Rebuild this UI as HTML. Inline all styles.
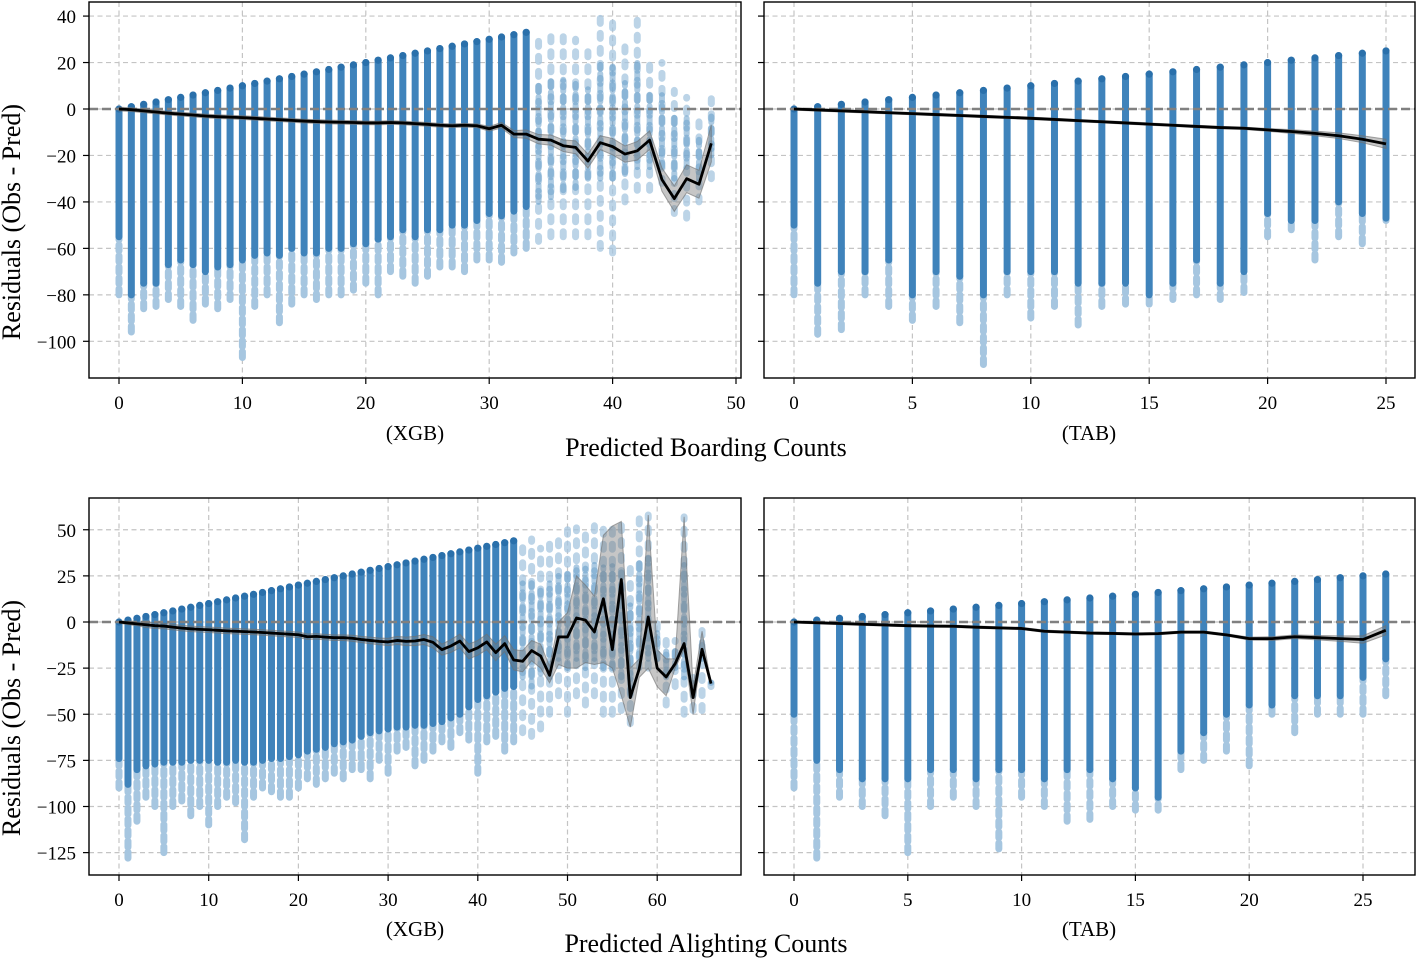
<!DOCTYPE html>
<html><head><meta charset="utf-8">
<style>
html,body{margin:0;padding:0;background:#fff;}
svg{display:block;font-family:"Liberation Serif",serif;}
</style></head>
<body>
<svg id="chart" width="1417" height="958" viewBox="0 0 1417 958" xmlns="http://www.w3.org/2000/svg">
<text x="20" y="222" font-size="26" text-anchor="middle" transform="rotate(-90 20 222)">Residuals (Obs - Pred)</text>
<text x="20" y="718" font-size="26" text-anchor="middle" transform="rotate(-90 20 718)">Residuals (Obs - Pred)</text>
<text x="415" y="440" font-size="21" text-anchor="middle">(XGB)</text>
<text x="1089" y="440" font-size="21" text-anchor="middle">(TAB)</text>
<text x="706" y="456" font-size="26" text-anchor="middle">Predicted Boarding Counts</text>
<text x="415" y="936" font-size="21" text-anchor="middle">(XGB)</text>
<text x="1089" y="936" font-size="21" text-anchor="middle">(TAB)</text>
<text x="706" y="952" font-size="26" text-anchor="middle">Predicted Alighting Counts</text>
</svg>
<script>
// ---------- Top-left: boarding XGB ----------
const tlHi = [0,1,2,3,4,5,6,7,8,9,10,11,12,13,14,15,16,17,18,19,20,21,22,23,24,25,26,27,28,29,30,31,32,33,33,34,33,30,25,40,39,28,39,22,20,8,5,-5,5];
const tlDenseLo = [-55,-80,-75,-75,-67,-65,-67,-70,-68,-67,-65,-63,-62,-63,-60,-62,-62,-60,-60,-58,-58,-56,-55,-52,-55,-52,-52,-50,-50,-48,-45,-46,-44,-42,-40,-38,-35,-34,-30,-30,-30,-28,-25,-25,-25,-30,-25,-30,-20];
const tlSparseLo = [-80,-96,-86,-85,-82,-85,-91,-84,-86,-82,-107,-85,-80,-92,-84,-80,-82,-80,-80,-78,-75,-80,-70,-72,-75,-72,-68,-68,-70,-65,-65,-66,-62,-60,-57,-55,-55,-55,-55,-60,-62,-40,-35,-35,-32,-45,-47,-40,-30];
const tlTrend = [0,-0.3,-0.8,-1.3,-1.8,-2.2,-2.6,-3,-3.3,-3.5,-3.7,-4,-4.3,-4.6,-4.9,-5.2,-5.4,-5.6,-5.7,-5.8,-6,-6,-5.8,-6,-6.3,-6.6,-7,-7.2,-7,-7.2,-8.5,-7,-10.8,-10.8,-13,-13.4,-15.8,-16.5,-22.4,-14.5,-16.2,-19.4,-18,-13.4,-30.4,-38.6,-30,-32.4,-14.8];
const tlCiHalf = [0.8,0.8,0.8,0.8,0.8,0.8,0.8,0.8,0.8,0.8,0.8,0.8,0.8,0.8,0.8,0.8,0.8,0.8,0.8,0.8,0.8,0.8,0.8,0.8,0.8,0.8,0.8,0.8,0.8,0.8,1,1.2,1.5,1.8,2,2.2,2.5,2.8,3,3,3.5,3.5,4,4,5,5.5,6,6,8];
const tlXTicks = [0,10,20,30,40,50];
const topYTicks = [40,20,0,-20,-40,-60,-80,-100];

// ---------- Top-right: boarding TAB ----------
const trHi = [0,1,2,3,4,5,6,7,8,9,10,11,12,13,14,15,16,17,18,19,20,21,22,23,24,25];
const trDenseLo = [-50,-75,-70,-70,-65,-80,-70,-72,-80,-70,-70,-70,-75,-75,-75,-80,-75,-65,-75,-70,-45,-48,-48,-40,-45,-47];
const trSparseLo = [-80,-97,-95,-80,-85,-91,-85,-92,-110,-80,-90,-85,-93,-85,-84,-84,-82,-80,-82,-79,-55,-52,-65,-55,-58,-48];
const trTrend = [0,-0.4,-0.8,-1.2,-1.6,-2,-2.4,-2.8,-3.2,-3.6,-4,-4.5,-5,-5.5,-6,-6.5,-7,-7.5,-8,-8.3,-9,-9.7,-10.5,-11.5,-13,-15];
const trCiHalf = [0.5,0.5,0.5,0.5,0.5,0.5,0.5,0.5,0.5,0.5,0.5,0.5,0.5,0.5,0.5,0.5,0.5,0.5,0.5,0.5,0.6,0.8,1,1.2,1.5,2];
const trXTicks = [0,5,10,15,20,25];

// ---------- Bottom-left: alighting XGB ----------
const blHi = [0,1,2,3,4,5,6,7,8,9,10,11,12,13,14,15,16,17,18,19,20,21,22,23,24,25,26,27,28,29,30,31,32,33,34,35,36,37,38,39,40,41,42,43,44,44,45,40,46,46,50,51,52,53,53,54,54.5,30,57,58,0,-10,-10,57,-30,-3,-33];
const blDenseLo = [-74,-88,-80,-78,-77,-76,-76,-76,-75,-75,-75,-76,-76,-75,-76,-76,-75,-74,-74,-73,-72,-70,-69,-68,-66,-65,-64,-62,-60,-59,-58,-57,-57,-56,-56,-55,-54,-52,-50,-46,-42,-40,-38,-36,-35,-30,-35,-28,-30,-20,-25,-20,-25,-20,-25,-25,-30,-40,-25,-20,-20,-30,-25,-30,-40,-20,-33];
const blSparseLo = [-90,-128,-108,-95,-100,-125,-100,-97,-105,-100,-110,-100,-95,-98,-118,-95,-90,-92,-95,-95,-90,-85,-88,-85,-82,-85,-80,-80,-85,-75,-82,-70,-68,-78,-75,-70,-65,-68,-60,-64,-82,-65,-62,-70,-65,-60,-62,-58,-50,-40,-50,-40,-45,-40,-50,-50,-48,-55,-20,-25,-20,-45,-35,-50,-48,-48,-35];
const blTrend = [0,-0.5,-1,-1.5,-2,-2.2,-2.8,-3.3,-3.7,-4,-4.2,-4.5,-4.8,-5,-5.2,-5.4,-5.7,-6,-6.3,-6.6,-6.9,-8,-7.8,-8.2,-8.5,-8.5,-8.8,-9.5,-10,-10.5,-10.8,-10,-10.5,-10.3,-9.5,-11,-15,-13,-10.3,-16,-14,-10.8,-16.6,-11.7,-20.6,-21.3,-15.5,-18.4,-28.9,-8.1,-8.1,2.2,1,-5.4,12.6,-15,23,-41,-25.3,2.7,-25,-29.8,-22.6,-11.7,-41,-14.8,-33.4];
const blCiLo = [-0.5,-1.5,-2,-3,-3.5,-3.7,-4.3,-4.8,-5.2,-5.5,-5.7,-6,-6.3,-6.5,-6.7,-6.9,-7.2,-7.5,-7.8,-8.1,-8.4,-9.5,-9.3,-9.7,-10,-10,-10.5,-11.2,-11.8,-12.3,-12.8,-12.2,-12.8,-12.8,-12.2,-14,-18,-16.5,-14,-20,-18,-15,-21,-16,-26,-27,-21,-25,-33,-23,-25,-25,-22,-23,-22,-25,-40,-57,-30,-25,-35,-40,-25,-15,-50,-15,-33.4];
const blCiHi = [0.5,0.5,0,0,-0.5,-0.7,-1.3,-1.8,-2.2,-2.5,-2.7,-3,-3.3,-3.5,-3.7,-3.9,-4.2,-4.5,-4.8,-5.1,-5.4,-6.5,-6.3,-6.7,-7,-7,-7.1,-7.8,-8.2,-8.7,-8.8,-7.8,-8.2,-7.8,-6.8,-8,-12,-9.5,-6.6,-12,-10,-6.6,-12,-7.4,-15,-15.6,-10,-12,-24,0,5,25,20,14,47,52,54.5,-25,-20,58,-15,-20,-20,57,-35,-5,-33.4];
const blXTicks = [0,10,20,30,40,50,60];
const botYTicks = [50,25,0,-25,-50,-75,-100,-125];

// ---------- Bottom-right: alighting TAB ----------
const brHi = [0,1,2,3,4,5,6,7,8,9,10,11,12,13,14,15,16,17,18,19,20,21,22,23,24,25,26];
const brDenseLo = [-50,-75,-80,-85,-85,-85,-80,-80,-85,-80,-80,-85,-80,-80,-85,-90,-95,-70,-60,-50,-45,-45,-40,-40,-40,-30,-20];
const brSparseLo = [-90,-128,-95,-100,-105,-125,-100,-95,-100,-123,-95,-100,-108,-107,-100,-102,-102,-80,-75,-70,-78,-50,-60,-50,-50,-50,-40];
const brTrend = [0,-0.4,-0.8,-1.2,-1.6,-2,-2.2,-2.3,-2.8,-3.2,-3.5,-5,-5.5,-6,-6.2,-6.5,-6.3,-5.5,-5.5,-7,-9,-9,-8,-8.5,-9,-9.5,-4.5];
const brCiHalf = [0.5,0.6,0.6,0.6,0.6,0.6,0.6,0.6,0.6,0.6,0.6,0.6,0.6,0.6,0.6,0.6,0.6,0.6,0.6,0.6,0.8,1,1,1.2,1.5,2,2.5];
const brXTicks = [0,5,10,15,20,25];

const NS = "http://www.w3.org/2000/svg";
const svg = document.getElementById('chart');
function mk(tag, attrs, parent){
  const e = document.createElementNS(NS, tag);
  for (const k in attrs) e.setAttribute(k, attrs[k]);
  (parent||svg).appendChild(e);
  return e;
}
const fmt = v => v < 0 ? '\u2212' + Math.abs(v) : String(v);

function panel(cfg){
  const {id, L, R, T, B, x0, kx, y0, ky, xTicks, yTicks, yLabels, hi, denseLo, sparseLo, trend, ciLo, ciHi, darkEnd} = cfg;
  const sx = v => x0 + v * kx;
  const sy = v => y0 - v * ky;
  const g = mk('g', {});
  
  
  const clip = mk('clipPath', {id: id + '-clip'}, g);
  mk('rect', {x: L, y: T, width: R - L, height: B - T}, clip);
  xTicks.forEach(t => {
    const l = mk('line', {x1: sx(t), x2: sx(t), y1: T, y2: B, stroke: '#c4c4c4', 'stroke-width': 1.2, 'stroke-dasharray': '5 3.5'}, g);
    
    
  });
  yTicks.forEach(t => {
    const l = mk('line', {x1: L, x2: R, y1: sy(t), y2: sy(t), stroke: '#c4c4c4', 'stroke-width': 1.2, 'stroke-dasharray': '5 3.5'}, g);
    
    
  });
  const pg = mk('g', {'clip-path': 'url(#' + id + '-clip)'}, g);
  hi.forEach((h, i) => {
    const top = i <= darkEnd ? denseLo[i] : h;
    const c = mk('line', {x1: sx(i), x2: sx(i), y1: sy(sparseLo[i]), y2: sy(top), stroke: '#a6c6e0', 'stroke-width': 7, 'stroke-linecap': 'round', 'stroke-dasharray': i <= darkEnd ? '6 5' : '5 10', opacity: i <= darkEnd ? 1 : 0.75}, pg);
    
    
  });
  hi.forEach((h, i) => {
    if (i > darkEnd) {
      const c = mk('line', {x1: sx(i), x2: sx(i), y1: sy(denseLo[i]), y2: sy(Math.min(h, denseLo[i] + (h - denseLo[i]) * 0.7)), stroke: '#5b97c6', 'stroke-width': 6, 'stroke-linecap': 'round', 'stroke-dasharray': '6 5', opacity: 0.5}, pg);
      
      
      return;
    }
    const c = mk('line', {x1: sx(i), x2: sx(i), y1: sy(denseLo[i]), y2: sy(h), stroke: '#3f83bb', 'stroke-width': 7, 'stroke-linecap': 'round'}, pg);
    
    
    const d = mk('circle', {cx: sx(i), cy: sy(h), r: 3.6, fill: '#2a70ab'}, pg);
    
    
  });
  const z = mk('line', {x1: L, x2: R, y1: sy(0), y2: sy(0), stroke: '#808080', 'stroke-width': 2.6, 'stroke-dasharray': '9 4'}, pg);
  
  
  let dBand = '';
  trend.forEach((v, i) => { dBand += (i ? 'L' : 'M') + sx(i) + ',' + sy(ciHi[i]); });
  for (let i = trend.length - 1; i >= 0; i--) dBand += 'L' + sx(i) + ',' + sy(ciLo[i]);
  const band = mk('path', {d: dBand + 'Z', fill: 'rgba(120,120,120,0.42)', stroke: 'rgba(110,110,110,0.6)', 'stroke-width': 1}, pg);
  
  
  let dT = '';
  trend.forEach((v, i) => { dT += (i ? 'L' : 'M') + sx(i) + ',' + sy(v); });
  const tl = mk('path', {d: dT, fill: 'none', stroke: '#000', 'stroke-width': 2.8, 'stroke-linejoin': 'round'}, pg);
  
  
  const fr = mk('rect', {x: L, y: T, width: R - L, height: B - T, fill: 'none', stroke: '#000', 'stroke-width': 1.4}, g);
  
  
  xTicks.forEach(t => {
    mk('line', {x1: sx(t), x2: sx(t), y1: B, y2: B + 6, stroke: '#000', 'stroke-width': 1.2}, g);
    const tx = mk('text', {x: sx(t), y: B + 31, 'font-size': 19, 'text-anchor': 'middle'}, g);
    tx.textContent = fmt(t);
    
    
  });
  yTicks.forEach(t => {
    mk('line', {x1: L - 6, x2: L, y1: sy(t), y2: sy(t), stroke: '#000', 'stroke-width': 1.2}, g);
    if (yLabels) {
      const ty = mk('text', {x: L - 13, y: sy(t) + 7, 'font-size': 19, 'text-anchor': 'end'}, g);
      ty.textContent = fmt(t);
      
      
    }
  });
}
const sym = (tr, h, s) => tr.map((v, i) => v + s * h[i]);

panel({id:'boarding-xgb', L:89, R:741, T:2, B:378, x0:119, kx:12.34, y0:109, ky:2.323,
  xTicks:tlXTicks, yTicks:topYTicks, yLabels:true, hi:tlHi, denseLo:tlDenseLo, sparseLo:tlSparseLo,
  trend:tlTrend, ciLo:sym(tlTrend, tlCiHalf, -1), ciHi:sym(tlTrend, tlCiHalf, 1), darkEnd:33});
panel({id:'boarding-tab', L:764, R:1415, T:2, B:378, x0:794, kx:23.68, y0:109, ky:2.323,
  xTicks:trXTicks, yTicks:topYTicks, yLabels:false, hi:trHi, denseLo:trDenseLo, sparseLo:trSparseLo,
  trend:trTrend, ciLo:sym(trTrend, trCiHalf, -1), ciHi:sym(trTrend, trCiHalf, 1), darkEnd:25});
panel({id:'alighting-xgb', L:89, R:741, T:498, B:875, x0:119, kx:8.97, y0:622, ky:1.845,
  xTicks:blXTicks, yTicks:botYTicks, yLabels:true, hi:blHi, denseLo:blDenseLo, sparseLo:blSparseLo,
  trend:blTrend, ciLo:blCiLo, ciHi:blCiHi, darkEnd:44});
panel({id:'alighting-tab', L:764, R:1415, T:498, B:875, x0:794, kx:22.76, y0:622, ky:1.845,
  xTicks:brXTicks, yTicks:botYTicks, yLabels:false, hi:brHi, denseLo:brDenseLo, sparseLo:brSparseLo,
  trend:brTrend, ciLo:sym(brTrend, brCiHalf, -1), ciHi:sym(brTrend, brCiHalf, 1), darkEnd:26});
</script>
</body></html>
